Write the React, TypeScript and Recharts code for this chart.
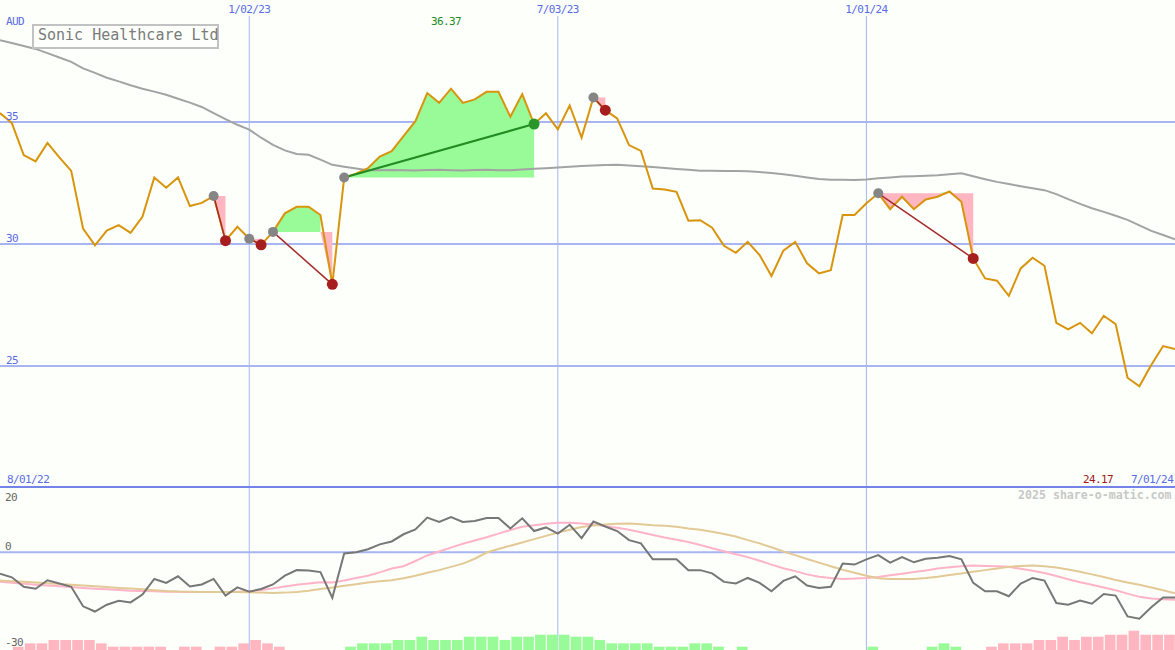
import React from 'react';
import {
  ComposedChart,
  Line,
  Area,
  Bar,
  Cell,
  XAxis,
  YAxis,
  CartesianGrid,
  ReferenceLine,
} from 'recharts';

// weekly closes, 8 Aug 2022 .. 1 Jul 2024 (AUD)
const price = [
  35.37, 34.96, 33.65, 33.39, 34.15, 33.55, 33.0, 30.63, 29.95, 30.55,
  30.78, 30.46, 31.12, 32.73, 32.31, 32.73, 31.56, 31.69, 31.97, 30.14,
  30.71, 30.22, 29.97, 30.5, 31.26, 31.53, 31.53, 31.19, 28.35, 32.73,
  32.89, 33.11, 33.59, 33.81, 34.43, 35.04, 36.19, 35.79, 36.37, 35.79,
  35.93, 36.24, 36.24, 35.22, 36.15, 34.92, 35.36, 34.7, 35.68, 34.37,
  36.01, 35.49, 35.15, 34.06, 33.82, 32.28, 32.24, 32.14, 30.96, 30.98,
  30.67, 29.93, 29.64, 30.09, 29.55, 28.69, 29.73, 30.09, 29.21, 28.8,
  28.93, 31.19, 31.19, 31.67, 32.08, 31.43, 31.94, 31.43, 31.83, 31.94,
  32.16, 31.73, 29.41, 28.59, 28.5, 27.88, 29.0, 29.44, 29.11, 26.77,
  26.5, 26.77, 26.34, 27.06, 26.72, 24.52, 24.17, 25.04, 25.82, 25.7,
];

// long moving average (grey)
const longAvg = [
  38.36, 38.24, 38.12, 38.0, 37.83, 37.65, 37.47, 37.2, 37.02, 36.82,
  36.67, 36.51, 36.37, 36.25, 36.12, 35.96, 35.8, 35.62, 35.37, 35.12,
  34.89, 34.69, 34.36, 34.07, 33.84, 33.69, 33.66, 33.46, 33.25, 33.17,
  33.1, 33.03, 33.03, 33.04, 33.03, 33.02, 33.04, 33.05, 33.03, 33.02,
  33.04, 33.05, 33.03, 33.03, 33.06, 33.09, 33.11, 33.14, 33.17, 33.2,
  33.22, 33.24, 33.25, 33.22, 33.19, 33.16, 33.12, 33.08, 33.05, 33.01,
  33.01, 33.0, 33.0, 32.99, 32.95, 32.91, 32.86, 32.8, 32.73, 32.67,
  32.64, 32.64, 32.63, 32.65, 32.7, 32.73, 32.77, 32.78, 32.8, 32.82,
  32.86, 32.9, 32.78, 32.66, 32.55, 32.46, 32.37, 32.29, 32.21, 32.05,
  31.84, 31.65, 31.47, 31.32, 31.16, 30.99, 30.77, 30.54, 30.37, 30.2,
];

// lower panel
const oscillator = [
  -6.6, -7.7, -10.6, -11.2, -8.6, -9.6, -10.6, -16.6, -18.2, -16.1,
  -14.9, -15.4, -13.0, -8.2, -9.4, -7.4, -10.5, -9.9, -8.2, -13.3,
  -10.8, -12.1, -11.3, -9.9, -7.2, -5.5, -5.6, -6.1, -14.0, -0.4,
  0.0, 0.9, 2.4, 3.3, 5.5, 7.0, 10.6, 9.3, 10.8, 9.3,
  9.6, 10.5, 10.5, 7.3, 10.4, 6.5, 7.6, 5.7, 8.4, 4.3,
  9.4, 7.9, 6.5, 3.7, 2.7, -2.2, -2.2, -2.2, -5.5, -5.5,
  -6.5, -9.1, -9.6, -7.9, -9.4, -12.0, -8.8, -7.4, -10.2, -11.0,
  -10.6, -3.5, -3.8, -2.2, -0.9, -3.2, -1.5, -3.1, -2.0, -1.7,
  -1.2, -2.2, -9.4, -12.0, -12.0, -13.5, -9.6, -7.9, -8.7, -15.6,
  -16.1, -14.8, -15.8, -12.8, -13.3, -19.7, -20.4, -16.9, -13.9, -13.9,
];

const signalFast = [
  -9.1, -9.4, -9.7, -9.95, -10.2, -10.45, -10.7, -10.95, -11.2, -11.4,
  -11.6, -11.8, -11.9, -12.0, -12.1, -12.15, -12.2, -12.2, -12.2, -12.2,
  -12.1, -12.0, -11.6, -11.1, -10.5, -10.0, -9.6, -9.25, -9.3, -8.7,
  -7.9, -7.2, -6.2, -5.0, -4.3, -2.7, -1.0, 0.2, 1.4, 2.6,
  3.6, 4.6, 5.7, 6.8, 7.8, 8.3, 8.7, 9.0, 9.0, 8.8,
  8.5, 8.0, 7.5, 6.9, 6.1, 5.3, 4.5, 3.8, 3.1, 2.2,
  1.2, 0.3, -0.6, -1.5, -2.6, -3.8, -4.9, -5.8, -6.8, -7.5,
  -7.9, -8.2, -8.1, -7.9, -7.6, -7.1, -6.6, -6.1, -5.6, -5.0,
  -4.6, -4.3, -4.1, -4.2, -4.3, -4.5, -5.1, -5.7, -6.4, -7.3,
  -8.3, -9.2, -10.0, -10.8, -11.7, -12.7, -13.7, -14.2, -14.4, -14.6,
];

const signalSlow = [
  -8.7, -8.9, -9.1, -9.3, -9.5, -9.75, -10.0, -10.2, -10.45, -10.7,
  -10.95, -11.15, -11.4, -11.65, -11.9, -12.05, -12.1, -12.2, -12.2, -12.2,
  -12.2, -12.3, -12.4, -12.5, -12.4, -12.2, -11.8, -11.3, -10.8, -10.3,
  -9.8, -9.3, -8.9, -8.6, -8.0, -7.2, -6.3, -5.5, -4.5, -3.5,
  -2.0, -0.1, 1.0, 2.0, 3.0, 4.0, 5.0, 6.0, 6.9, 7.7,
  8.2, 8.5, 8.7, 8.8, 8.6, 8.3, 8.1, 7.8, 7.3, 6.9,
  6.3, 5.6, 4.8, 3.7, 2.7, 1.5, 0.2, -0.9, -2.1, -3.2,
  -4.3, -5.4, -6.3, -7.2, -8.0, -8.2, -8.2, -8.2, -7.9, -7.5,
  -7.0, -6.5, -6.0, -5.5, -5.0, -4.5, -4.2, -4.1, -4.3, -4.7,
  -5.3, -6.0, -6.8, -7.6, -8.5, -9.3, -10.0, -10.8, -11.7, -12.6,
];

// weekly bars between closes (negative = pink, positive = green)
const histogram = [
  0, -1, -2, -2, -3, -3, -3, -3, -2, -1,
  -1, -1, -1, -1, 0, -1, -1, 0, -1, -1,
  -2, -3, -2, -1, 0, 0, 0, 0, 0, 1,
  2, 2, 2, 3, 3, 4, 3, 3, 3, 4,
  4, 4, 3, 4, 4, 4.6, 4.6, 4.6, 4, 4,
  3, 2, 2, 2, 2, 1, 1, 1, 2, 2,
  1, 0, 1, 0, 0, 0, 0, 0, 0, 0,
  0, 0, 0, 1, 0, 0, 0, 0, 1, 2,
  1, 0, 0, -1, -2, -2, -2, -3, -3, -4,
  -3, -4, -4, -4.6, -4.6, -5.8, -4.6, -4.6, -4.6, 0,
];

const dateTicks = [21, 47, 73];
const dateLabels = ['1/02/23', '7/03/23', '1/01/24'];
const priceTicks = [25, 30, 35];
const oscTicks = [20, 0, -30];

// trades: week index of entry and exit
const tradeEntry = [18, 21, 23, 29, 50, 74];
const tradeExit = [19, 22, 28, 45, 51, 82];

const W = 1175;
const mono = "'DejaVu Sans Mono', monospace";
const blue = '#5a6be6';
const gridBlue = '#a9b5f3';
const gainFill = '#98fb98';
const lossFill = '#ffb6c1';

type Row = Record<string, any>;

const rows: Row[] = price.map((p, i) => ({
  i,
  price: p,
  avg: longAvg[i],
  osc: oscillator[i],
  fast: signalFast[i],
  slow: signalSlow[i],
  hist: histogram[i] ? Math.abs(histogram[i]) : null,
  histSign: histogram[i] || 0,
  entryMark: null,
  winMark: null,
  lossMark: null,
}));

tradeEntry.forEach((e, t) => {
  const x = tradeExit[t];
  const level = price[e];
  for (let i = 0; i < rows.length; i++) {
    rows[i][`g${t}`] = null;
    rows[i][`r${t}`] = null;
    rows[i][`l${t}`] = null;
  }
  for (let i = e; i <= x; i++) {
    const p = price[i];
    const up = (i > e && p >= level) || (i < x && price[i + 1] >= level);
    const down = (i > e && p < level) || (i < x && price[i + 1] < level);
    if (up) rows[i][`g${t}`] = [level, Math.max(p, level)];
    if (down) rows[i][`r${t}`] = [Math.min(p, level), level];
  }
  rows[e][`l${t}`] = level;
  rows[x][`l${t}`] = price[x];
  rows[e].entryMark = level;
  if (price[x] >= level) rows[x].winMark = price[x];
  else rows[x].lossMark = price[x];
});

const oscTickShift: Record<string, number> = { '20': 14, '0': -2, '-30': -4 };

const Txt = ({ children, left, top, color, size = 11, bold = false }: any) => (
  <div
    style={{
      position: 'absolute',
      left,
      top,
      color,
      fontFamily: mono,
      fontSize: size,
      lineHeight: `${size}px`,
      fontWeight: bold ? 'bold' : 'normal',
      letterSpacing: size === 11 ? '-0.6px' : 0,
      whiteSpace: 'nowrap',
    }}
  >
    {children}
  </div>
);

const App = () => {
  return (
    <div
      style={{
        position: 'absolute',
        left: 0,
        top: 0,
        width: W,
        height: 650,
        background: '#fcfffa',
        overflow: 'hidden',
      }}
    >
      <div style={{ position: 'absolute', left: 0, top: 0 }}>
        <ComposedChart
          width={W}
          height={488}
          data={rows}
          margin={{ top: 0, right: 0, bottom: 0, left: 0 }}
        >
          <CartesianGrid
            horizontal={false}
            verticalValues={dateTicks}
            stroke={gridBlue}
            strokeWidth={1}
          />
          <CartesianGrid
            vertical={false}
            horizontalValues={priceTicks}
            stroke={gridBlue}
            strokeWidth={2}
          />
          <XAxis
            dataKey="i"
            type="number"
            domain={[0, 99]}
            allowDataOverflow
            orientation="top"
            height={16}
            ticks={dateTicks}
            interval={0}
            tickFormatter={(v) => dateLabels[dateTicks.indexOf(v)]}
            axisLine={false}
            tickLine={false}
            tickSize={0}
            tickMargin={3}
            tick={{ fill: blue, fontSize: 11, fontFamily: mono, letterSpacing: -0.6 }}
          />
          <YAxis
            domain={[20, 39.35]}
            allowDataOverflow
            ticks={priceTicks}
            interval={0}
            mirror
            axisLine={false}
            tickLine={false}
            tickSize={0}
            tickMargin={6}
            tick={{ fill: blue, fontSize: 11, fontFamily: mono, letterSpacing: -0.6, dy: -6 }}
          />
          {tradeEntry.map((_, t) => (
            <Area
              key={`g${t}`}
              dataKey={`g${t}`}
              type="linear"
              stroke="none"
              fill={gainFill}
              fillOpacity={1}
              isAnimationActive={false}
            />
          ))}
          {tradeEntry.map((_, t) => (
            <Area
              key={`r${t}`}
              dataKey={`r${t}`}
              type="linear"
              stroke="none"
              fill={lossFill}
              fillOpacity={1}
              isAnimationActive={false}
            />
          ))}
          <Line
            dataKey="avg"
            type="linear"
            stroke="#a3a3a3"
            strokeWidth={2}
            dot={false}
            isAnimationActive={false}
          />
          <Line
            dataKey="price"
            type="linear"
            stroke="#d8940c"
            strokeWidth={2}
            dot={false}
            isAnimationActive={false}
          />
          {tradeEntry.map((e, t) => {
            const win = price[tradeExit[t]] >= price[e];
            return (
              <Line
                key={`l${t}`}
                dataKey={`l${t}`}
                type="linear"
                stroke={win ? '#228b22' : '#a52a2a'}
                strokeWidth={win ? 2 : 1.5}
                connectNulls
                dot={false}
                isAnimationActive={false}
              />
            );
          })}
          <Line
            dataKey="entryMark"
            stroke="none"
            dot={{ r: 5, fill: '#858585', stroke: 'none' }}
            isAnimationActive={false}
          />
          <Line
            dataKey="lossMark"
            stroke="none"
            dot={{ r: 5.5, fill: '#a61e1e', stroke: 'none' }}
            isAnimationActive={false}
          />
          <Line
            dataKey="winMark"
            stroke="none"
            dot={{ r: 5.5, fill: '#2a962a', stroke: 'none' }}
            isAnimationActive={false}
          />
        </ComposedChart>
      </div>

      <div style={{ position: 'absolute', left: 0, top: 485 }}>
        <ComposedChart
          width={W}
          height={165}
          data={rows}
          margin={{ top: 2, right: 0, bottom: 0, left: 0 }}
        >
          <CartesianGrid
            horizontal={false}
            verticalValues={dateTicks}
            stroke={gridBlue}
            strokeWidth={1}
          />
          <CartesianGrid
            vertical={false}
            horizontalValues={[0]}
            stroke={gridBlue}
            strokeWidth={2}
          />
          <XAxis dataKey="i" type="number" domain={[0, 99]} allowDataOverflow hide />
          <XAxis
            xAxisId="h"
            dataKey="i"
            type="number"
            domain={[-0.5, 98.5]}
            allowDataOverflow
            hide
          />
          <YAxis
            domain={[-30, 20]}
            allowDataOverflow
            ticks={oscTicks}
            interval={0}
            mirror
            axisLine={false}
            tickLine={false}
            tickSize={0}
            tickMargin={5}
            tick={(p: any) => (
              <text
                x={p.x}
                y={p.y + (oscTickShift[String(p.payload.value)] ?? 0)}
                fill="#666666"
                fontSize={11}
                fontFamily={mono}
                letterSpacing={-0.6}
                textAnchor="start"
              >
                {p.payload.value}
              </text>
            )}
          />
          <YAxis yAxisId="h" domain={[0, 49]} allowDataOverflow hide />
          <Bar
            xAxisId="h"
            yAxisId="h"
            dataKey="hist"
            barSize={12}
            isAnimationActive={false}
          >
            {rows.map((r, i) => (
              <Cell key={i} fill={r.histSign < 0 ? lossFill : gainFill} />
            ))}
          </Bar>
          <Line
            dataKey="fast"
            type="linear"
            stroke="#ffb3c8"
            strokeWidth={2}
            dot={false}
            isAnimationActive={false}
          />
          <Line
            dataKey="slow"
            type="linear"
            stroke="#e3c996"
            strokeWidth={2}
            dot={false}
            isAnimationActive={false}
          />
          <Line
            dataKey="osc"
            type="linear"
            stroke="#777777"
            strokeWidth={2}
            dot={false}
            isAnimationActive={false}
          />
          <ReferenceLine y={20} stroke="#7383ea" strokeWidth={2} />
        </ComposedChart>
      </div>

      <div
        style={{
          position: 'absolute',
          left: 32,
          top: 24,
          width: 187,
          height: 25,
          boxSizing: 'border-box',
          border: '2px solid #c2c2c2',
          paddingLeft: 4,
          paddingTop: 2,
          fontFamily: mono,
          fontSize: 15,
          lineHeight: '15px',
          color: '#7a7a7a',
          whiteSpace: 'nowrap',
        }}
      >
        Sonic Healthcare Ltd
      </div>

      <Txt left={6} top={16} color={blue}>AUD</Txt>
      <Txt left={431} top={16} color="#228b22">36.37</Txt>
      <Txt left={7} top={474} color={blue}>8/01/22</Txt>
      <Txt left={1083} top={474} color="#a01818">24.17</Txt>
      <Txt left={1131} top={474} color={blue}>7/01/24</Txt>
      <Txt left={1018} top={490} color="#c8c8c8" size={11.6} bold>
        2025 share-o-matic.com
      </Txt>
    </div>
  );
};

export default App;
